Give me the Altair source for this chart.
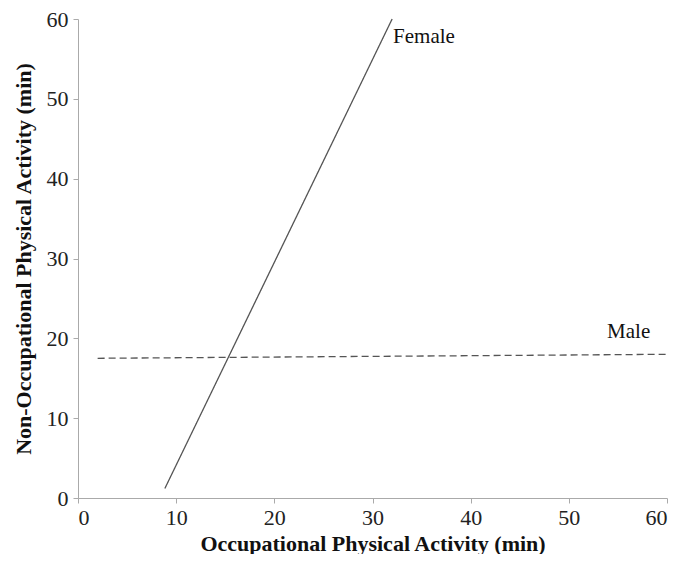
import altair as alt
import pandas as pd

series = ["Female", "Female", "Male", "Male"]
x_vals = [8.85, 32.0, 2.0, 60.0]
y_vals = [1.2, 60.0, 17.5, 18.0]

label_text = ["Female", "Male"]
label_x = [32.1, 53.9]
label_y = [57.8, 20.8]

df = pd.DataFrame({"series": series, "x": x_vals, "y": y_vals})
lab = pd.DataFrame({"label": label_text, "x": label_x, "y": label_y})

FONT = "Liberation Serif"

xscale = alt.Scale(domain=[0, 60], nice=False)
yscale = alt.Scale(domain=[0, 60], nice=False)

xaxis = alt.Axis(title="Occupational Physical Activity (min)", values=[0, 10, 20, 30, 40, 50, 60],
                 grid=False, domainColor="#aaaaaa", tickColor="#aaaaaa", tickSize=5,
                 labelFont=FONT, labelFontSize=22, labelColor="#222222", labelPadding=4,
                 titleFont=FONT, titleFontSize=22, titleFontWeight="bold", titleColor="#111111",
                 titlePadding=5)
yaxis = alt.Axis(title="Non-Occupational Physical Activity (min)", values=[0, 10, 20, 30, 40, 50, 60],
                 grid=False, domainColor="#aaaaaa", tickColor="#aaaaaa", tickSize=5,
                 labelFont=FONT, labelFontSize=22, labelColor="#222222", labelPadding=5,
                 titleFont=FONT, titleFontSize=22, titleFontWeight="bold", titleColor="#111111",
                 titlePadding=11)

lines = alt.Chart(df).mark_line(color="#555555", strokeWidth=1.3).encode(
    x=alt.X("x:Q", scale=xscale, axis=xaxis),
    y=alt.Y("y:Q", scale=yscale, axis=yaxis),
    detail="series:N",
    strokeDash=alt.StrokeDash("series:N", scale=alt.Scale(domain=["Female", "Male"], range=[[1, 0], [7, 4]]), legend=None),
)

texts = alt.Chart(lab).mark_text(font=FONT, fontSize=21, align="left", baseline="middle", color="#111111").encode(
    x=alt.X("x:Q", scale=xscale),
    y=alt.Y("y:Q", scale=yscale),
    text="label:N",
)

chart = (lines + texts).properties(
    width=589, height=479,
    autosize=alt.AutoSizeParams(type="none"),
    padding={"left": 70, "top": 11, "right": 19, "bottom": 56},
).configure_view(stroke=None)

chart.save("out.html", embed_options={"renderer": "svg", "actions": False})
